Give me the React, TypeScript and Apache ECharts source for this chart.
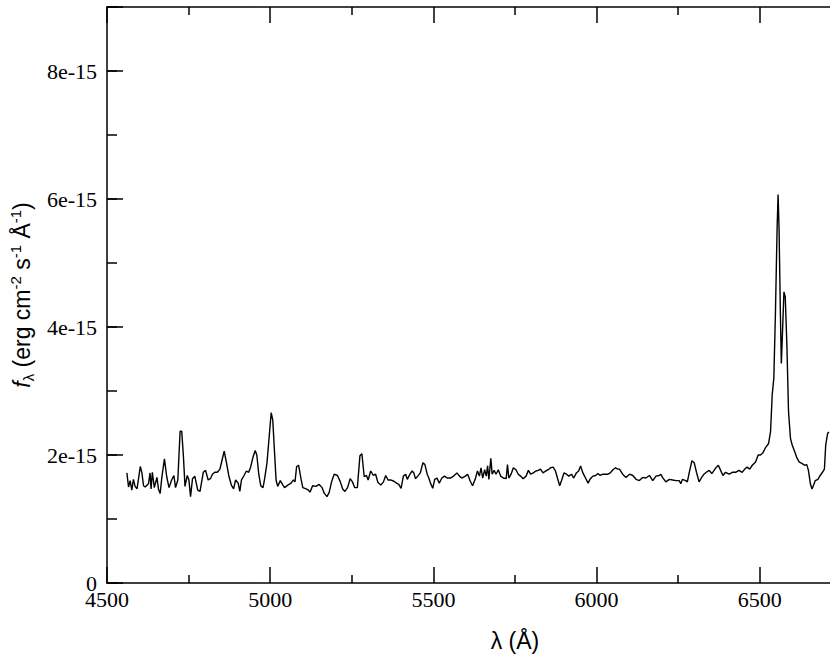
import React, { useEffect, useRef } from "react";
import * as echarts from "echarts";

// Wavelength in Å
const wavelength: number[] = [
  4561, 4566, 4571, 4576, 4581, 4586, 4592, 4602, 4607, 4612,
  4617, 4627, 4632, 4635, 4639, 4645, 4653, 4658, 4663, 4668,
  4676, 4683, 4690, 4698, 4705, 4710, 4717, 4724, 4729, 4734,
  4739, 4746, 4751, 4756, 4762, 4769, 4778, 4785, 4795, 4802,
  4810, 4817, 4823, 4830, 4838, 4846, 4853, 4859, 4866, 4873,
  4881, 4888, 4894, 4902, 4907, 4912, 4920, 4927, 4934, 4940,
  4947, 4954, 4959, 4965, 4971, 4978, 4983, 4990, 4996, 5003,
  5008, 5013, 5018, 5023, 5031, 5039, 5044, 5054, 5064, 5071,
  5076, 5081, 5087, 5095, 5100, 5110, 5117, 5122, 5130, 5140,
  5150, 5159, 5166, 5174, 5181, 5188, 5196, 5206, 5215, 5222,
  5229, 5237, 5245, 5252, 5259, 5267, 5275, 5281, 5288, 5295,
  5300, 5308, 5316, 5323, 5330, 5339, 5347, 5354, 5361, 5369,
  5379, 5387, 5394, 5401, 5408, 5415, 5420, 5428, 5435, 5440,
  5445, 5452, 5460, 5468, 5474, 5481, 5486, 5491, 5498, 5504,
  5511, 5518, 5526, 5534, 5542, 5552, 5562, 5572, 5580, 5587,
  5598, 5605, 5613, 5620, 5628, 5635, 5641, 5646, 5651, 5657,
  5662, 5666, 5670, 5676, 5680, 5686, 5692, 5699, 5706, 5714,
  5723, 5727, 5731, 5738, 5745, 5753, 5760, 5767, 5775, 5784,
  5791, 5798, 5806, 5814, 5821, 5828, 5836, 5844, 5852, 5859,
  5867, 5874, 5880, 5887, 5894, 5900, 5908, 5915, 5923, 5930,
  5938, 5945, 5951, 5958, 5966, 5974, 5981, 5989, 5997, 6004,
  6011, 6019, 6027, 6035, 6042, 6050, 6058, 6065,
  6070, 6080, 6090, 6101, 6111, 6121, 6131, 6141, 6151, 6162,
  6172, 6182, 6192, 6197, 6202, 6212, 6223, 6233, 6243, 6253,
  6258, 6263, 6273, 6278, 6284, 6292, 6299, 6306, 6314, 6322,
  6329, 6336, 6345, 6353, 6360, 6367, 6373, 6380, 6387, 6395,
  6406, 6416, 6426, 6436, 6446, 6454, 6461, 6469, 6477, 6487,
  6495, 6502, 6509, 6517, 6527, 6533, 6538, 6543, 6548, 6553,
  6556, 6559, 6563, 6566, 6570, 6574, 6578, 6583, 6588, 6594,
  6599, 6607, 6614, 6621, 6629, 6637, 6644, 6649, 6655, 6660,
  6665, 6670, 6678, 6685, 6692, 6698, 6702, 6708, 6712,
];

// Flux f_lambda in units of 1e-15 erg cm^-2 s^-1 Å^-1
const flux: number[] = [
  1.72, 1.50, 1.60, 1.45, 1.62, 1.51, 1.47, 1.82, 1.72, 1.52,
  1.50, 1.55, 1.72, 1.47, 1.73, 1.49, 1.65, 1.46, 1.40, 1.65,
  1.94, 1.66, 1.49, 1.61, 1.68, 1.49, 1.61, 2.37, 2.37, 1.99,
  1.51, 1.68, 1.61, 1.35, 1.63, 1.67, 1.45, 1.43, 1.73, 1.76,
  1.61, 1.63, 1.70, 1.73, 1.73, 1.78, 1.93, 2.06, 1.88, 1.68,
  1.53, 1.47, 1.61, 1.56, 1.43, 1.61, 1.68, 1.75, 1.73, 1.81,
  1.96, 2.07, 2.00, 1.70, 1.52, 1.49, 1.63, 1.87, 2.23, 2.66,
  2.54, 2.07, 1.61, 1.51, 1.60, 1.53, 1.49, 1.53, 1.56, 1.61,
  1.58, 1.82, 1.84, 1.61, 1.49, 1.47, 1.45, 1.42, 1.52, 1.51,
  1.54, 1.49, 1.40, 1.35, 1.42, 1.58, 1.70, 1.68, 1.58, 1.47,
  1.43, 1.49, 1.63, 1.58, 1.49, 1.49, 1.99, 2.02, 1.66, 1.68,
  1.61, 1.75, 1.68, 1.70, 1.57, 1.53, 1.58, 1.68, 1.61, 1.61,
  1.59, 1.56, 1.54, 1.48, 1.67, 1.70, 1.62, 1.70, 1.75, 1.72,
  1.63, 1.67, 1.72, 1.88, 1.85, 1.70, 1.64, 1.56, 1.48, 1.62,
  1.64, 1.56, 1.64, 1.67, 1.64, 1.64, 1.67, 1.72, 1.67, 1.64,
  1.67, 1.70, 1.59, 1.52, 1.62, 1.75, 1.67, 1.80, 1.64, 1.77,
  1.67, 1.83, 1.62, 1.95, 1.70, 1.76, 1.70, 1.77, 1.67, 1.64,
  1.63, 1.85, 1.64, 1.70, 1.80, 1.77, 1.70, 1.67, 1.63, 1.67,
  1.76, 1.70, 1.72, 1.75, 1.76, 1.78, 1.72, 1.75, 1.77, 1.80,
  1.81, 1.75, 1.64, 1.52, 1.62, 1.72, 1.70, 1.67, 1.70, 1.64,
  1.72, 1.75, 1.83, 1.72, 1.64, 1.56, 1.63, 1.67, 1.68, 1.71,
  1.68, 1.70, 1.70, 1.70, 1.72, 1.77, 1.80, 1.78,
  1.78, 1.70, 1.65, 1.70, 1.68, 1.62, 1.60, 1.65, 1.64, 1.68,
  1.60, 1.67, 1.68, 1.70, 1.65, 1.58, 1.62, 1.61, 1.60, 1.60,
  1.55, 1.62, 1.60, 1.58, 1.73, 1.91, 1.88, 1.73, 1.58, 1.65,
  1.70, 1.73, 1.76, 1.71, 1.76, 1.81, 1.84, 1.76, 1.68, 1.73,
  1.70, 1.73, 1.73, 1.76, 1.73, 1.78, 1.81, 1.78, 1.84, 1.89,
  2.00, 2.00, 2.03, 2.11, 2.18, 2.37, 2.94, 3.20, 4.24, 5.54,
  6.07, 5.54, 4.24, 3.43, 3.98, 4.55, 4.47, 3.72, 2.68, 2.26,
  2.16, 2.05, 1.95, 1.89, 1.87, 1.84, 1.85, 1.76, 1.55, 1.47,
  1.53, 1.60, 1.62, 1.68, 1.73, 1.78, 2.16, 2.34, 2.36,
];

const X_MIN = 4500;
const X_MAX = 7000;
const X_STEP = 500;
const Y_MIN = 0;
const Y_MAX = 9;
const Y_STEP = 2;

const SERIF = "Liberation Serif, Times New Roman, serif";
const SANS = "Liberation Sans, Arial, sans-serif";

export default function App() {
  const ref = useRef<HTMLDivElement>(null);

  useEffect(() => {
    if (!ref.current) return;
    const chart = echarts.init(ref.current, null, { renderer: "svg" });
    const axisLine = { color: "#000", width: 1.5 };
    const pairs = wavelength.map((w, i) => [w, flux[i]]);

    const xBase = (pos: "bottom" | "top") => ({
      type: "value" as const,
      position: pos,
      min: X_MIN,
      max: X_MAX,
      interval: X_STEP,
      axisLine: { show: true, onZero: false, lineStyle: axisLine },
      axisTick: { show: true, inside: true, length: 16, lineStyle: axisLine },
      minorTick: { show: true, splitNumber: 2, length: 8, lineStyle: axisLine },
      splitLine: { show: false },
      minorSplitLine: { show: false },
    });

    chart.setOption({
      animation: false,
      backgroundColor: "#fff",
      textStyle: { fontFamily: SERIF, color: "#000" },
      grid: { left: 105, top: 7, right: 17, bottom: 82, containLabel: false },
      xAxis: [
        {
          ...xBase("bottom"),
          axisLabel: {
            color: "#000",
            fontFamily: SERIF,
            fontSize: 22,
            margin: 5,
            formatter: (v: number) => (v >= X_MAX ? "" : String(v)),
          },
          name: "λ (Å)",
          nameLocation: "middle",
          nameGap: 46,
          nameTextStyle: { color: "#000", fontFamily: SANS, fontSize: 23 },
        },
        {
          ...xBase("top"),
          axisLabel: { show: false },
        },
      ],
      yAxis: [
        {
          type: "value",
          position: "left",
          min: Y_MIN,
          max: Y_MAX,
          interval: Y_STEP,
          axisLine: { show: true, onZero: false, lineStyle: axisLine },
          axisTick: { show: true, inside: true, length: 16, lineStyle: axisLine },
          splitLine: { show: false },
          axisLabel: {
            color: "#000",
            fontFamily: SERIF,
            fontSize: 22,
            margin: 10,
            formatter: (v: number) => (v === 0 ? "0" : v === Y_MAX ? "" : `${v}e-15`),
          },
          name: "{f|f}{sub|λ} (erg cm{sup|-2} s{sup|-1} Å{sup|-1})",
          nameLocation: "middle",
          nameRotate: 90,
          nameGap: 60,
          nameTextStyle: {
            color: "#000",
            fontFamily: SANS,
            fontSize: 23,
            lineHeight: 28,
            rich: {
              f: { fontFamily: SANS, fontStyle: "italic", fontSize: 23, lineHeight: 28, color: "#000" },
              sub: { fontFamily: SANS, fontSize: 15, lineHeight: 12, verticalAlign: "bottom", color: "#000" },
              sup: { fontFamily: SANS, fontSize: 15, lineHeight: 6, verticalAlign: "top", color: "#000" },
            },
          },
        },
        {
          type: "value",
          position: "left",
          min: Y_MIN,
          max: Y_MAX,
          interval: 1,
          axisLine: { show: false },
          axisTick: { show: true, inside: true, length: 10, lineStyle: axisLine },
          splitLine: { show: false },
          axisLabel: { show: false },
        },
      ],
      series: [
        {
          type: "line",
          xAxisIndex: 0,
          yAxisIndex: 0,
          data: pairs,
          showSymbol: false,
          symbol: "none",
          silent: true,
          lineStyle: { color: "#000", width: 1.4 },
        },
      ],
    });
    return () => chart.dispose();
  }, []);

  return (
    <div
      style={{ position: "absolute", left: 0, top: 0, width: 830, height: 665, overflow: "hidden", background: "#fff" }}
    >
      <div ref={ref} style={{ width: 940, height: 665 }} />
    </div>
  );
}
